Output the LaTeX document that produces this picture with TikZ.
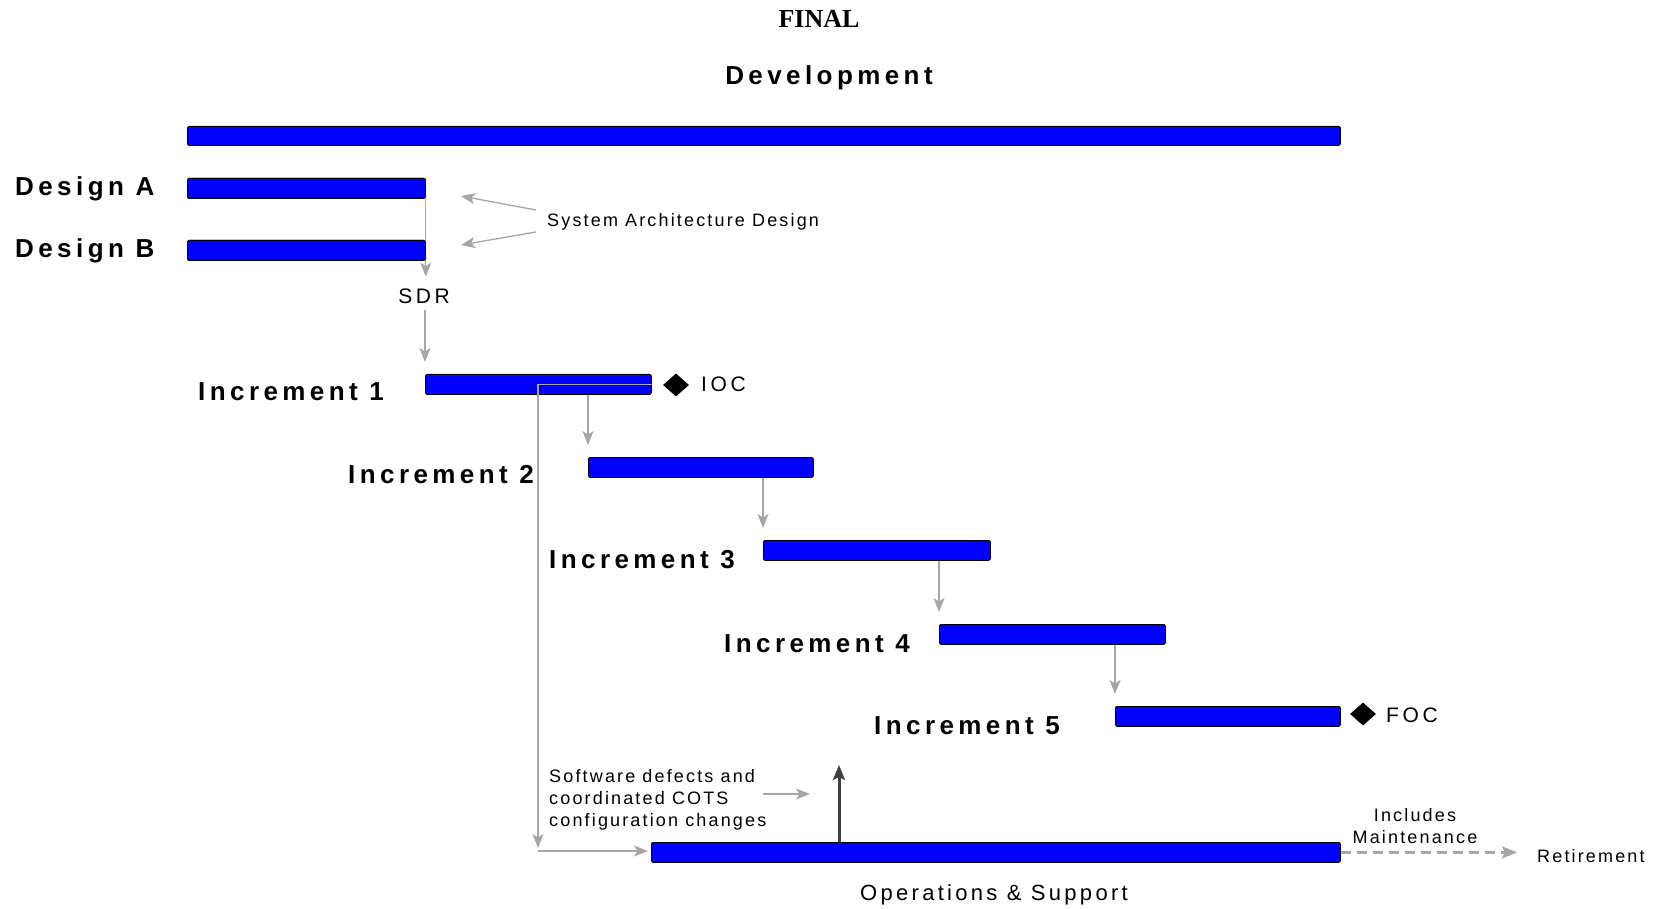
\documentclass[tikz,border=0pt]{standalone}
\usepackage{fontspec}
\setmainfont{Liberation Sans}
\newfontfamily\headfont{Liberation Serif}
\newfontfamily\wideboldfont[LetterSpace=17]{Liberation Sans}
\newfontfamily\devfont[LetterSpace=17]{Liberation Sans}
\newfontfamily\notefont[LetterSpace=12]{Liberation Sans}
\newfontfamily\tagfont[LetterSpace=17]{Liberation Sans}
\newfontfamily\opsfont[LetterSpace=15]{Liberation Sans}
\usetikzlibrary{arrows.meta,shapes.geometric}
\definecolor{barblue}{RGB}{0,0,255}
\definecolor{linkgray}{RGB}{166,166,166}
\definecolor{darkarrow}{RGB}{64,64,64}
\tikzset{
  bar/.style={draw=black, line width=0.8pt, fill=barblue, rounded corners=1.5pt,
    minimum height=20pt, inner sep=0pt, anchor=north west},
  phase/.style={font=\wideboldfont\bfseries\fontsize{26}{30}\selectfont, inner sep=0pt, anchor=base west},
  note/.style={font=\notefont\fontsize{18}{22}\selectfont, inner sep=0pt},
  tag/.style={font=\tagfont\fontsize{21}{25}\selectfont, inner sep=0pt},
  milestone/.style={diamond, fill=black, minimum width=26pt, minimum height=23pt, inner sep=0pt},
  link/.style={draw=linkgray, line width=1.3pt, -{Stealth[length=14pt,width=11pt,inset=3.5pt]}},
}
\begin{document}
\begin{tikzpicture}[x=1pt,y=-1pt]
\useasboundingbox (0,0) rectangle (1658,909);

% headings
\node[font=\headfont\bfseries\fontsize{26}{30}\selectfont, inner sep=0pt, anchor=base] (final) at (819,27.6) {FINAL};
\node[font=\devfont\bfseries\fontsize{26}{30}\selectfont, inner sep=0pt, anchor=base] (devt) at (829,84.5) {Development};

% row labels
\node[phase] (la) at (15,196) {Design A};
\node[phase] (lb) at (15,258) {Design B};
\node[phase] (l1) at (198,400) {Increment 1};
\node[phase] (l2) at (348,483) {Increment 2};
\node[phase] (l3) at (549,568) {Increment 3};
\node[phase] (l4) at (724,652) {Increment 4};
\node[phase] (l5) at (874,734) {Increment 5};

% annotations
\node[note, anchor=base west] (sad) at (547,226.5) {System Architecture Design};
\node[tag, anchor=base] (sdr) at (424,303.5) {SDR};
\node[tag, anchor=base west] (ioc) at (701,391.5) {IOC};
\node[tag, anchor=base west] (foc) at (1386,722) {FOC};
\node[note, anchor=base west, align=left] (sw) at (549,826)
  {Software defects and\\coordinated COTS\\configuration changes};
\node[note, anchor=base, align=center] (maint) at (1415,843) {Includes\\Maintenance};
\node[note, anchor=base west] (ret) at (1537,862) {Retirement};
\node[font=\opsfont\fontsize{22}{26}\selectfont, inner sep=0pt, anchor=base] (opst) at (994,900) {Operations \& Support};

% connector end points
\coordinate (sa1) at (536,210);
\coordinate (ta1) at (461,196);
\coordinate (sa2) at (536,232);
\coordinate (ta2) at (461,245);
\coordinate (corner) at (538,851);
\coordinate (sws) at (763,794);
\coordinate (swt) at (810,794);
\coordinate (up) at (839,765);

% bars
\node[bar, minimum width=1153pt, minimum height=19pt] (dev) at (187,126) {};
\node[bar, minimum width=238pt] (da) at (187,178) {};
\node[bar, minimum width=238pt] (db) at (187,240) {};
\node[bar, minimum width=226pt] (i1) at (425,374) {};
\node[bar, minimum width=225pt] (i2) at (588,457) {};
\node[bar, minimum width=227pt] (i3) at (763,540) {};
\node[bar, minimum width=226pt] (i4) at (939,624) {};
\node[bar, minimum width=225pt] (i5) at (1115,706) {};
\node[bar, minimum width=689pt] (ops) at (651,842) {};

% milestones
\node[milestone] (iocm) at (676,385) {};
\node[milestone] (focm) at (1363,714) {};

% connectors
\draw[link] (sa1) -- (ta1);
\draw[link] (sa2) -- (ta2);
\draw[link, shorten >=12pt] (da.north east) -- (da.north east |- sdr.north);
\draw[link, shorten <=6pt, shorten >=12pt] (sdr.south -| i1.north west) -- (i1.north west);
\draw[link, shorten >=12pt] (i1.south -| i2.north west) -- (i2.north west);
\draw[link, shorten >=12pt] (i2.south -| i3.north west) -- (i3.north west);
\draw[link, shorten >=12pt] (i3.south -| i4.north west) -- (i4.north west);
\draw[link, shorten >=12pt] (i4.south -| i5.north west) -- (i5.north west);
\draw[link, shorten >=3pt] (i1.east) -| (corner);
\draw[link, shorten >=3pt] (corner) -- (corner -| ops.west);
\draw[link] (sws) -- (swt);
\draw[draw=linkgray, line width=2.8pt, dash pattern=on 10pt off 6pt,
  -{Stealth[length=15pt,width=12pt,inset=3pt]}, shorten >=20pt] (ops.east) -- (ops.east -| ret.west);
\draw[draw=darkarrow, line width=3pt, -{Stealth[length=15pt,width=12pt,inset=3pt]}] (up |- ops.north) -- (up);

% design bars redrawn over the vertical connector
\node[bar, minimum width=238pt] at (187,178) {};
\node[bar, minimum width=238pt] at (187,240) {};
\end{tikzpicture}
\end{document}
